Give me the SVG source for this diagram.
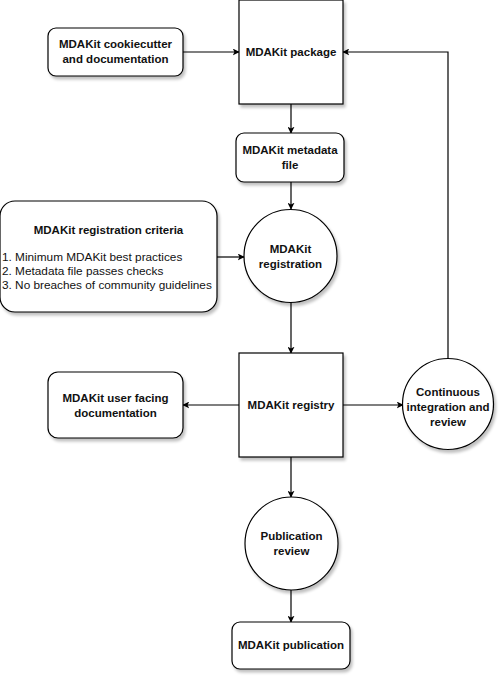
<svg xmlns="http://www.w3.org/2000/svg" width="503" height="680" viewBox="0 0 503 680">
<defs>
<filter id="sh" x="-20%" y="-20%" width="150%" height="150%">
<feGaussianBlur in="SourceAlpha" stdDeviation="1.5"/>
<feOffset dx="2" dy="3" result="b"/>
<feComponentTransfer><feFuncA type="linear" slope="0.25"/></feComponentTransfer>
<feMerge><feMergeNode/><feMergeNode in="SourceGraphic"/></feMerge>
</filter>
<marker id="arr" viewBox="0 0 10 10" refX="9" refY="5" markerWidth="7" markerHeight="7" markerUnits="userSpaceOnUse" orient="auto">
<path d="M0,0 L10,5 L0,10 L2.5,5 Z" fill="#000"/>
</marker>
</defs>
<style>
.n{fill:#fff;stroke:#000;stroke-width:1.2;filter:url(#sh)}
.t{font-family:"Liberation Sans",Arial,sans-serif;font-size:11.5px;font-weight:bold;fill:#111;text-anchor:middle}
.l{font-family:"Liberation Sans",Arial,sans-serif;font-size:11.8px;fill:#111}
.c{fill:none;stroke:#000;stroke-width:1.2;marker-end:url(#arr)}
</style>
<g id="connectors">
<path class="c" d="M183,52 L239,52"/>
<path class="c" d="M291,104 L291,133"/>
<path class="c" d="M291,182 L291,209"/>
<path class="c" d="M217,257 L244,257"/>
<path class="c" d="M291,303 L291,353"/>
<path class="c" d="M239,405 L183,405"/>
<path class="c" d="M343,405 L403,405"/>
<path class="c" d="M448,358 L448,52 L343,52"/>
<path class="c" d="M291,457 L291,497"/>
<path class="c" d="M291,590 L291,622"/>
</g>
<g id="cookiecutter">
<rect class="n" x="48" y="28" width="135" height="48" rx="8"/>
<text class="t" x="115.5" y="48">MDAKit cookiecutter</text>
<text class="t" x="115.5" y="63">and documentation</text>
</g>
<g id="package">
<rect class="n" x="239" y="0" width="104" height="104"/>
<text class="t" x="291" y="56">MDAKit package</text>
</g>
<g id="metadata">
<rect class="n" x="236" y="133" width="108" height="49" rx="8"/>
<text class="t" x="290" y="154">MDAKit metadata</text>
<text class="t" x="290" y="169">file</text>
</g>
<g id="criteria">
<rect class="n" x="0" y="201" width="217" height="111" rx="15"/>
<text class="t" x="108.5" y="234">MDAKit registration criteria</text>
<text class="l" x="2" y="261">1. Minimum MDAKit best practices</text>
<text class="l" x="2" y="275">2. Metadata file passes checks</text>
<text class="l" x="2" y="289">3. No breaches of community guidelines</text>
</g>
<g id="registration">
<circle class="n" cx="290.5" cy="256" r="46.5"/>
<text class="t" x="290.5" y="253">MDAKit</text>
<text class="t" x="290.5" y="268">registration</text>
</g>
<g id="registry">
<rect class="n" x="239" y="353" width="104" height="104"/>
<text class="t" x="291" y="409">MDAKit registry</text>
</g>
<g id="userdocs">
<rect class="n" x="48" y="372" width="135" height="66" rx="10"/>
<text class="t" x="115.5" y="402">MDAKit user facing</text>
<text class="t" x="115.5" y="417">documentation</text>
</g>
<g id="ci">
<circle class="n" cx="448" cy="404" r="45.5"/>
<text class="t" x="448" y="396">Continuous</text>
<text class="t" x="448" y="411">integration and</text>
<text class="t" x="448" y="426">review</text>
</g>
<g id="pubreview">
<circle class="n" cx="291.5" cy="543.5" r="46.5"/>
<text class="t" x="291.5" y="540">Publication</text>
<text class="t" x="291.5" y="555">review</text>
</g>
<g id="publication">
<rect class="n" x="232" y="622" width="118" height="47" rx="8"/>
<text class="t" x="291" y="649">MDAKit publication</text>
</g>
</svg>
